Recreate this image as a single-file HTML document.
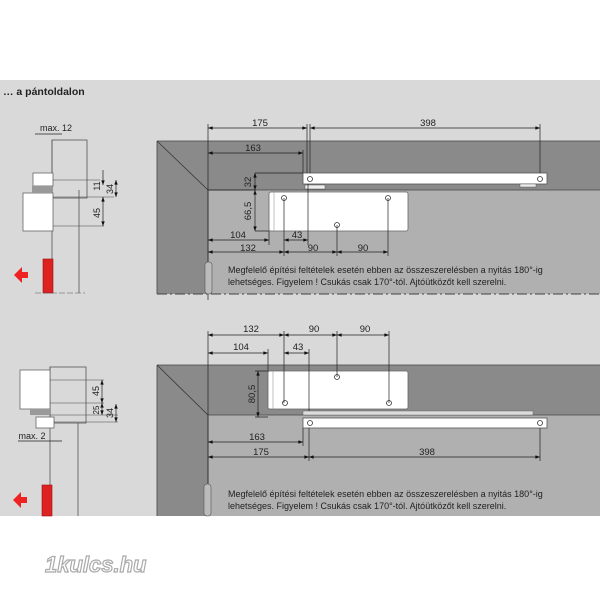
<!DOCTYPE html>
<html><head><meta charset="utf-8"><style>
html,body{margin:0;padding:0;background:#fff}
svg{display:block}
text{font-family:"Liberation Sans",sans-serif;fill:#222}
</style></head><body>
<svg width="600" height="600" viewBox="0 0 600 600" xmlns="http://www.w3.org/2000/svg">
<defs>
<marker id="a" viewBox="0 0 8 6" refX="8" refY="3" markerWidth="7" markerHeight="5" orient="auto-start-reverse"><path d="M0,0L8,3L0,6z" fill="#111"/></marker>
</defs>
<rect x="0" y="0" width="600" height="600" fill="#fff"/>
<rect x="0" y="80" width="600" height="436" fill="#d9d9d9"/>
<text x="3" y="95" font-size="10.5" font-weight="bold">… a pántoldalon</text>

<!-- TOP PANEL -->
<rect x="157" y="141" width="443" height="153" fill="#8a8a8a"/>
<rect x="208" y="190" width="392" height="104" fill="#b0b0b0"/>
<line x1="157" y1="141" x2="208" y2="190" stroke="#333" stroke-width="0.8"/>
<path d="M157,141H600M208,190H600M157,141V294M208,190V294" stroke="#444" stroke-width="0.8" fill="none"/>
<line x1="157" y1="294" x2="600" y2="294" stroke="#444" stroke-width="1" stroke-dasharray="10,3,2,3"/>
<rect x="303" y="173" width="244" height="11" fill="#fff" stroke="#555" stroke-width="0.8"/>
<rect x="305" y="185" width="20" height="4" fill="#eee" stroke="#555" stroke-width="0.5"/>
<rect x="520" y="184" width="16" height="3" fill="#eee" stroke="#555" stroke-width="0.5"/>
<rect x="269" y="192" width="139" height="39" rx="2" fill="#fff" stroke="#666" stroke-width="0.8"/>
<line x1="274" y1="192" x2="274" y2="231" stroke="#999" stroke-width="0.6"/>
<g fill="none" stroke="#333" stroke-width="0.8">
<circle cx="310" cy="179" r="2.5"/><circle cx="540" cy="179" r="2.5"/>
<circle cx="284" cy="198" r="2.5"/><circle cx="388" cy="198" r="2.5"/><circle cx="337" cy="225" r="2.5"/>
</g>
<g stroke="#222" stroke-width="0.7" fill="none">
<path d="M208,124V300M307,124V173M310,124V173M540,124V173M303,150V173M255,173H303M255,190H208M255,231H269M269,231V245M284,198V256M337,225V256M388,198V256M308,184V245"/>
<line x1="208" y1="128" x2="307" y2="128" marker-start="url(#a)" marker-end="url(#a)"/>
<line x1="310" y1="128" x2="540" y2="128" marker-start="url(#a)" marker-end="url(#a)"/>
<line x1="208" y1="153" x2="303" y2="153" marker-start="url(#a)" marker-end="url(#a)"/>
<line x1="255" y1="173" x2="255" y2="190" marker-start="url(#a)" marker-end="url(#a)"/>
<line x1="255" y1="190" x2="255" y2="231" marker-start="url(#a)" marker-end="url(#a)"/>
<line x1="208" y1="240" x2="269" y2="240" marker-start="url(#a)" marker-end="url(#a)"/>
<line x1="284" y1="240" x2="308" y2="240" marker-start="url(#a)" marker-end="url(#a)"/>
<line x1="208" y1="252" x2="284" y2="252" marker-start="url(#a)" marker-end="url(#a)"/>
<line x1="284" y1="252" x2="337" y2="252" marker-start="url(#a)" marker-end="url(#a)"/>
<line x1="337" y1="252" x2="388" y2="252" marker-start="url(#a)" marker-end="url(#a)"/>
</g>
<g font-size="9.5" text-anchor="middle">
<text x="260" y="126">175</text><text x="428" y="126">398</text><text x="253" y="151">163</text>
<text x="238" y="238">104</text><text x="297" y="238">43</text><text x="248" y="251">132</text>
<text x="313" y="251">90</text><text x="363" y="251">90</text>
<text transform="translate(251,182) rotate(-90)">32</text>
<text transform="translate(251,211) rotate(-90)">66,5</text>
</g>
<rect x="205" y="262" width="7" height="32" rx="3" fill="#bbb" stroke="#555" stroke-width="0.6"/>
<text x="228" y="273" font-size="9">Megfelelő építési feltételek esetén ebben az összeszerelésben a nyitás 180°-ig</text>
<text x="228" y="285" font-size="9">lehetséges. Figyelem ! Csukás csak 170°-tól. Ajtóütközőt kell szerelni.</text>

<!-- top left side view -->
<g stroke="#555" stroke-width="0.8" fill="none">
<rect x="52" y="140" width="35" height="58"/>
<path d="M52,140V293M79,190V293"/>
</g>
<rect x="23" y="193" width="30" height="38" fill="#fff" stroke="#666" stroke-width="0.8"/>
<rect x="33" y="173" width="20" height="13" fill="#fff" stroke="#666" stroke-width="0.8"/>
<rect x="32" y="186" width="20" height="7" fill="#999"/>
<path d="M53,180h5M53,197h5M53,226h5M58,180H100M58,197H114M58,226H104" stroke="#444" stroke-width="0.6"/>
<g stroke="#222" stroke-width="0.7">
<line x1="103" y1="170" x2="103" y2="185" marker-end="url(#a)"/>
<line x1="103" y1="202" x2="103" y2="197" />
<line x1="116" y1="180" x2="116" y2="197" marker-start="url(#a)" marker-end="url(#a)"/>
<line x1="103" y1="197" x2="103" y2="226" marker-start="url(#a)" marker-end="url(#a)"/>
<line x1="35" y1="134" x2="62" y2="134"/>
</g>
<g font-size="9" text-anchor="middle">
<text x="56" y="131">max. 12</text>
<text transform="translate(100,186) rotate(-90)">11</text>
<text transform="translate(113,189) rotate(-90)">34</text>
<text transform="translate(100,213) rotate(-90)">45</text>
</g>
<rect x="43" y="259" width="10" height="34" fill="#d22" stroke="#911" stroke-width="0.6"/>
<path d="M28,272h-6v-5l-8,8l8,8v-5h6z" fill="#e22"/>
<line x1="35" y1="293" x2="85" y2="293" stroke="#555" stroke-width="0.6" stroke-dasharray="6,2"/>

<!-- BOTTOM PANEL -->
<rect x="157" y="365" width="443" height="151" fill="#8a8a8a"/>
<rect x="208" y="415" width="392" height="101" fill="#b0b0b0"/>
<line x1="157" y1="365" x2="208" y2="415" stroke="#333" stroke-width="0.8"/>
<path d="M157,365H600M208,415H600M157,365V516M208,415V516" stroke="#444" stroke-width="0.8" fill="none"/>
<rect x="268" y="371" width="140" height="38" rx="2" fill="#fff" stroke="#666" stroke-width="0.8"/>
<line x1="273" y1="371" x2="273" y2="409" stroke="#999" stroke-width="0.6"/>
<rect x="303" y="418" width="244" height="10" fill="#fff" stroke="#555" stroke-width="0.8"/>
<rect x="303" y="411" width="230" height="4" fill="#ddd" stroke="#666" stroke-width="0.5"/>
<g fill="none" stroke="#333" stroke-width="0.8">
<circle cx="310" cy="423" r="2.5"/><circle cx="540" cy="423" r="2.5"/>
<circle cx="337" cy="377" r="2.5"/><circle cx="285" cy="403" r="2.5"/><circle cx="389" cy="403" r="2.5"/>
</g>
<g stroke="#222" stroke-width="0.7" fill="none">
<path d="M208,331V490M268,349V371M284,331V403M309,349V411M337,331V377M389,331V403M303,428V446M309,428V461M540,428V461M255,371H268M255,417H268"/>
<line x1="208" y1="335" x2="284" y2="335" marker-start="url(#a)" marker-end="url(#a)"/>
<line x1="284" y1="335" x2="337" y2="335" marker-start="url(#a)" marker-end="url(#a)"/>
<line x1="337" y1="335" x2="389" y2="335" marker-start="url(#a)" marker-end="url(#a)"/>
<line x1="208" y1="353" x2="268" y2="353" marker-start="url(#a)" marker-end="url(#a)"/>
<line x1="284" y1="353" x2="309" y2="353" marker-start="url(#a)" marker-end="url(#a)"/>
<line x1="258" y1="371" x2="258" y2="417" marker-start="url(#a)" marker-end="url(#a)"/>
<line x1="208" y1="442" x2="303" y2="442" marker-start="url(#a)" marker-end="url(#a)"/>
<line x1="208" y1="457" x2="309" y2="457" marker-start="url(#a)" marker-end="url(#a)"/>
<line x1="309" y1="457" x2="540" y2="457" marker-start="url(#a)" marker-end="url(#a)"/>
</g>
<g font-size="9.5" text-anchor="middle">
<text x="251" y="332">132</text><text x="314" y="332">90</text><text x="365" y="332">90</text>
<text x="241" y="350">104</text><text x="298" y="350">43</text>
<text x="257" y="440">163</text><text x="261" y="455">175</text><text x="427" y="455">398</text>
<text transform="translate(255,394) rotate(-90)">80,5</text>
</g>
<rect x="204" y="484" width="7" height="32" rx="3" fill="#bbb" stroke="#555" stroke-width="0.6"/>
<text x="228" y="497" font-size="9">Megfelelő építési feltételek esetén ebben az összeszerelésben a nyitás 180°-ig</text>
<text x="228" y="509" font-size="9">lehetséges. Figyelem ! Csukás csak 170°-tól. Ajtóütközőt kell szerelni.</text>

<!-- bottom left side view -->
<g stroke="#555" stroke-width="0.8" fill="none">
<rect x="50" y="367" width="36" height="56"/>
<path d="M50,367V516M78,423V516"/>
</g>
<rect x="20" y="370" width="30" height="39" fill="#fff" stroke="#666" stroke-width="0.8"/>
<rect x="30" y="409" width="20" height="6" fill="#999"/>
<rect x="36" y="417" width="18" height="11" fill="#fff" stroke="#666" stroke-width="0.8"/>
<path d="M50,380H104M50,415H118M54,422H118M50,403H104" stroke="#444" stroke-width="0.6"/>
<g stroke="#222" stroke-width="0.7">
<line x1="102" y1="380" x2="102" y2="403" marker-start="url(#a)" marker-end="url(#a)"/>
<line x1="102" y1="403" x2="102" y2="415" marker-start="url(#a)" marker-end="url(#a)"/>
<line x1="116" y1="404" x2="116" y2="422" marker-start="url(#a)" marker-end="url(#a)"/>
<line x1="18" y1="441" x2="62" y2="441"/>
</g>
<g font-size="9" text-anchor="middle">
<text x="32" y="439">max. 2</text>
<text transform="translate(99,391) rotate(-90)">45</text>
<text transform="translate(99,410) rotate(-90)" font-size="8">25</text>
<text transform="translate(113,413) rotate(-90)">34</text>
</g>
<rect x="42" y="485" width="10" height="31" fill="#d22" stroke="#911" stroke-width="0.6"/>
<path d="M27,497h-6v-5l-8,8l8,8v-5h6z" fill="#e22"/>

<text x="45" y="572" font-size="22" font-weight="bold" font-style="italic" style="fill:#fff;stroke:#aaa;stroke-width:1.2">1kulcs.hu</text>
</svg>
</body></html>
